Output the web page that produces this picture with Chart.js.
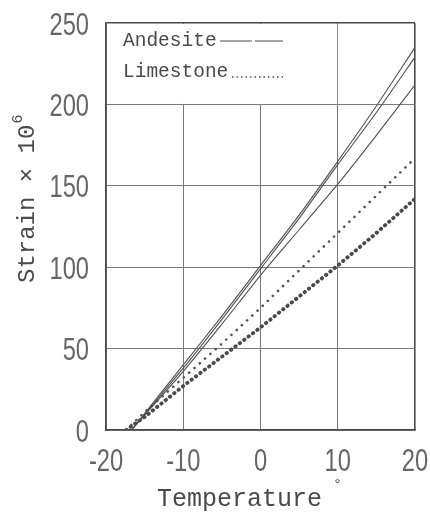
<!DOCTYPE html>
<html>
<head>
<meta charset="utf-8">
<script src="https://cdn.jsdelivr.net/npm/chart.js@4/dist/chart.umd.min.js"></script>
<style>
  html, body { margin: 0; padding: 0; background: #fff; }
  #wrap { width: 430px; height: 513px; }
</style>
</head>
<body>
<div id="wrap"><canvas id="strainChart" width="430" height="513"></canvas></div>
<script>
// values
const xTicks = [-20, -10, 0, 10, 20];
const yTicks = [0, 50, 100, 150, 200, 250];

const andesiteT = [-16.7, -10, -5, 0, 5, 10, 15, 20];
const andesiteA = [0, 40, 70, 101, 132, 165, 199, 235];
const andesiteB = [0, 38, 68, 99, 130, 163, 195, 229];
const andesiteC = [0, 36, 65, 95, 123, 151, 181, 212];

const limestoneT = [-17.4, -15, -10, -5, 0, 5, 10, 15, 20];
const limestoneA = [0, 11, 32, 53, 75, 98, 121, 144, 167];
const limestoneB = [0, 8, 27, 45, 63, 82, 101, 121, 142];

const ink = '#4a4a4a';
const gridInk = '#7a7a7a';
const numFont = '"Liberation Sans", Arial, sans-serif';
const monoFont = '"Liberation Mono", "DejaVu Sans Mono", monospace';

function pts(xs, ys) {
    return xs.map((x, i) => ({ x: x, y: ys[i] }));
}

function solid(label, ys) {
    return {
        label: label, data: pts(andesiteT, ys),
        borderColor: '#505050', borderWidth: 1.1, pointRadius: 0, tension: 0.2, fill: false
    };
}

const datasets = [
    solid('Andesite', andesiteA),
    solid('Andesite', andesiteB),
    solid('Andesite', andesiteC),
    {
        label: 'Limestone', data: pts(limestoneT, limestoneA),
        borderColor: '#555', borderWidth: 2.6, borderDash: [0.1, 7], borderCapStyle: 'round',
        pointRadius: 0, tension: 0, fill: false
    },
    {
        label: 'Limestone', data: pts(limestoneT, limestoneB),
        borderColor: ink, borderWidth: 3.8, borderDash: [0.5, 5], borderCapStyle: 'round',
        pointRadius: 0, tension: 0, fill: false
    }
];

// narrow tall digits like the scanned figure
function narrowText(ctx, str, px, py, align) {
    ctx.save();
    ctx.translate(px, py);
    ctx.scale(0.74, 1);
    ctx.textAlign = align;
    ctx.textBaseline = 'alphabetic';
    ctx.fillText(str, 0, 11.5);
    ctx.restore();
}

// legend cell (top-left box, no inner gridlines), tick labels and axis titles
const decor = {
    id: 'decor',
    beforeDatasetsDraw(chart) {
        const { ctx, scales: { x, y } } = chart;
        const l = x.getPixelForValue(-20), r = x.getPixelForValue(10);
        const t = y.getPixelForValue(250), b = y.getPixelForValue(200);
        ctx.save();
        ctx.fillStyle = '#fff';
        ctx.fillRect(l + 1, t + 1, r - l - 1.6, b - t - 1.6);
        ctx.fillStyle = ink;
        ctx.font = '19.5px ' + monoFont;
        ctx.textBaseline = 'middle';
        ctx.fillText('Andesite', 123, 41);
        ctx.fillText('Limestone', 123, 72);
        ctx.strokeStyle = ink;
        ctx.lineWidth = 1.2;
        ctx.beginPath();
        ctx.moveTo(220, 41); ctx.lineTo(252, 41);
        ctx.moveTo(255, 41); ctx.lineTo(283, 41);
        ctx.stroke();
        ctx.setLineDash([1.5, 3]);
        ctx.lineWidth = 1.6;
        ctx.beginPath();
        ctx.moveTo(232, 77); ctx.lineTo(284, 77);
        ctx.stroke();
        ctx.restore();
    },
    afterDraw(chart) {
        const { ctx, scales: { x, y } } = chart;
        ctx.save();
        ctx.fillStyle = '#666';
        ctx.font = '32px ' + numFont;
        yTicks.forEach(v => narrowText(ctx, String(v), 89, y.getPixelForValue(v), 'right'));
        xTicks.forEach(v => narrowText(ctx, String(v), x.getPixelForValue(v), 459, 'center'));

        ctx.fillStyle = ink;
        ctx.font = '25px ' + monoFont;
        ctx.textBaseline = 'middle';
        ctx.textAlign = 'left';
        ctx.fillText('Temperature', 157, 499);
        ctx.font = '15px ' + monoFont;
        ctx.fillText('°', 333, 485);

        ctx.translate(28, 283);
        ctx.rotate(-Math.PI / 2);
        ctx.font = '24px ' + monoFont;
        ctx.fillText('Strain × 10', 0, 0);
        const w = ctx.measureText('Strain × 10').width;
        ctx.font = '15px ' + monoFont;
        ctx.fillText('6', w + 1, -10);
        ctx.restore();
    }
};

new Chart(document.getElementById('strainChart'), {
    type: 'line',
    data: { datasets: datasets },
    plugins: [decor],
    options: {
        responsive: false,
        animation: false,
        devicePixelRatio: 1,
        layout: { padding: { left: 0, right: 15, top: 23, bottom: 0 } },
        plugins: { legend: { display: false }, tooltip: { enabled: false } },
        scales: {
            x: {
                type: 'linear', min: -20, max: 20,
                afterFit: s => { s.height = 83; },
                afterBuildTicks: s => { s.ticks = xTicks.map(v => ({ value: v })); },
                grid: {
                    drawTicks: false,
                    color: c => (c.tick && c.tick.value === 20) ? ink : gridInk,
                    lineWidth: c => (c.tick && c.tick.value === 20) ? 1.6 : 1
                },
                border: { color: ink, width: 1.6 },
                ticks: { display: false }
            },
            y: {
                min: 0, max: 250,
                afterFit: s => { s.width = 106; },
                afterBuildTicks: s => { s.ticks = yTicks.map(v => ({ value: v })); },
                grid: {
                    drawTicks: false,
                    color: c => (c.tick && c.tick.value === 250) ? ink : gridInk,
                    lineWidth: c => (c.tick && c.tick.value === 250) ? 1.6 : 1
                },
                border: { color: ink, width: 1.6 },
                ticks: { display: false }
            }
        }
    }
});
</script>
</body>
</html>
